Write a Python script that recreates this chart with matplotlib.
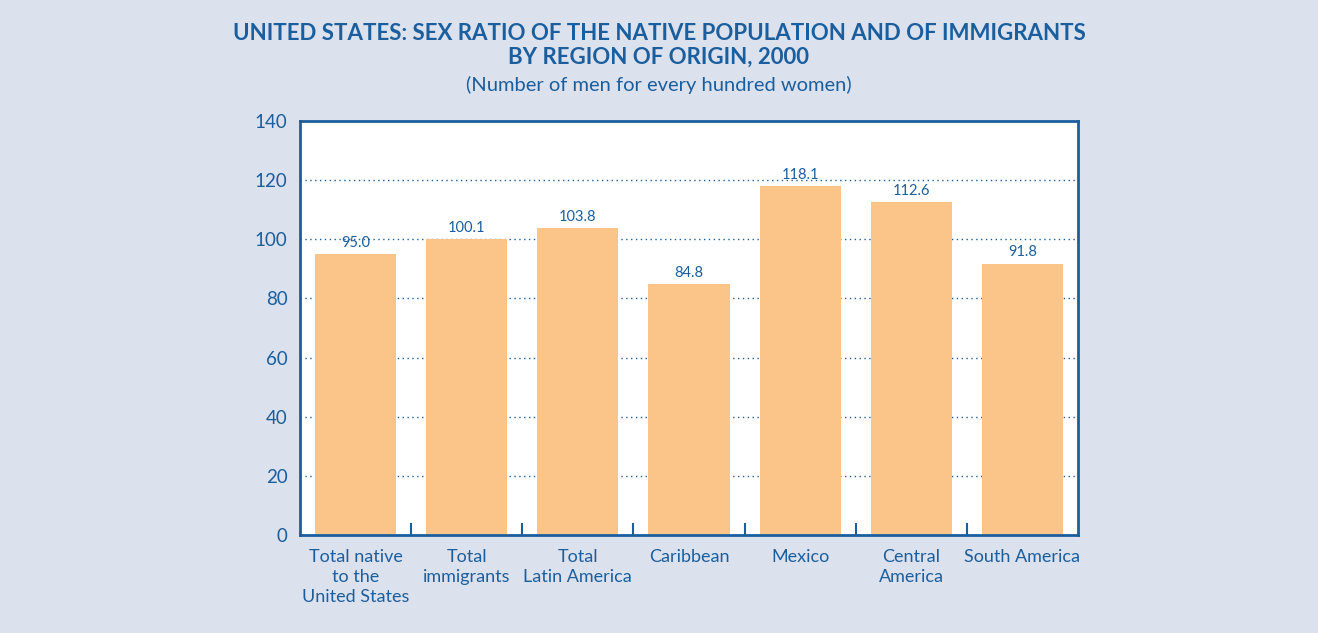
import matplotlib
matplotlib.use("Agg")
import matplotlib.pyplot as plt
import numpy as np

categories = ["Total native\nto the\nUnited States", "Total\nimmigrants", "Total\nLatin America",
              "Caribbean", "Mexico", "Central\nAmerica", "South America"]
values = [95.0, 100.1, 103.8, 84.8, 118.1, 112.6, 91.8]
yticks = [0, 20, 40, 60, 80, 100, 120, 140]

BLUE = "#1B5E9E"
BAR = "#FBC58A"
BG = "#DCE1EE"

plt.rcParams['font.family'] = ['Lato', 'DejaVu Sans']

fig = plt.figure(figsize=(13.18, 6.33), dpi=100, facecolor=BG)
ax = fig.add_axes([0.2276, 0.1548, 0.5903, 0.654])
ax.set_facecolor("white")

x = np.arange(len(categories))
ax.bar(x, values, width=0.73, color=BAR, zorder=2)
for xi, v in zip(x, values):
    ax.annotate(f"{v:.1f}", (xi, v), xytext=(0, 3), textcoords="offset points",
                ha="center", va="bottom", color=BLUE, fontsize=10.5)

ax.set_xlim(-0.5, len(categories) - 0.5)
ax.set_ylim(0, 140)
ax.set_yticks(yticks)
ax.set_yticklabels([str(t) for t in yticks])
ax.tick_params(axis="y", length=0, pad=9, labelsize=13.5, labelcolor=BLUE)
ax.set_xticks(x)
ax.set_xticklabels(categories)
ax.tick_params(axis="x", length=0, pad=10, labelsize=13, labelcolor=BLUE)
for lbl in ax.get_xticklabels():
    lbl.set_linespacing(1.3)
ax.set_xticks(np.arange(0.5, len(categories) - 0.5, 1), minor=True)
ax.tick_params(axis="x", which="minor", direction="in", length=9, width=1.5, color=BLUE)

for y in yticks[1:-1]:
    ax.axhline(y, color=BLUE, linestyle=(0, (1, 2.5)), linewidth=1.0, zorder=1)

for s in ax.spines.values():
    s.set_color(BLUE)
    s.set_linewidth(2)

fig.text(0.5, 0.947, "UNITED STATES: SEX RATIO OF THE NATIVE POPULATION AND OF IMMIGRANTS",
         ha="center", va="center", color=BLUE, fontsize=16, fontweight="bold")
fig.text(0.5, 0.909, "BY REGION OF ORIGIN, 2000",
         ha="center", va="center", color=BLUE, fontsize=16, fontweight="bold")
fig.text(0.5, 0.866, "(Number of men for every hundred women)",
         ha="center", va="center", color=BLUE, fontsize=14.5)

fig.savefig("out.png", dpi=100, facecolor=BG)
